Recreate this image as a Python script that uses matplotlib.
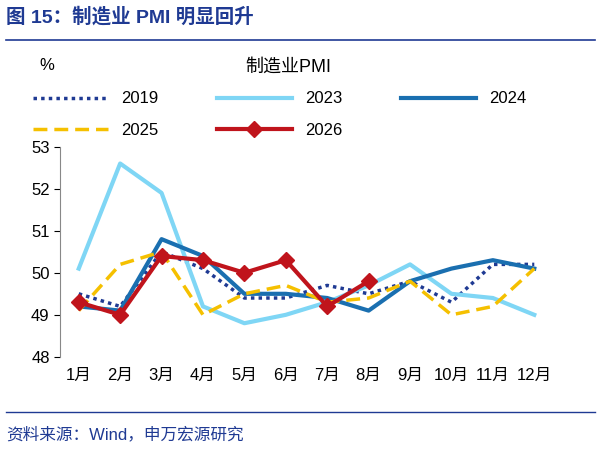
import matplotlib.pyplot as plt
from matplotlib.lines import Line2D

plt.rcParams['font.family'] = ['Liberation Sans', 'Noto Sans CJK SC', 'DejaVu Sans']

months = ['1月', '2月', '3月', '4月', '5月', '6月', '7月', '8月', '9月', '10月', '11月', '12月']
pmi_2019 = [49.5, 49.2, 50.5, 50.1, 49.4, 49.4, 49.7, 49.5, 49.8, 49.3, 50.2, 50.2]
pmi_2023 = [50.1, 52.6, 51.9, 49.2, 48.8, 49.0, 49.3, 49.7, 50.2, 49.5, 49.4, 49.0]
pmi_2024 = [49.2, 49.1, 50.8, 50.4, 49.5, 49.5, 49.4, 49.1, 49.8, 50.1, 50.3, 50.1]
pmi_2025 = [49.1, 50.2, 50.5, 49.0, 49.5, 49.7, 49.3, 49.4, 49.8, 49.0, 49.2, 50.1]
pmi_2026 = [49.3, 49.0, 50.4, 50.3, 50.0, 50.3, 49.2, 49.8]

fig = plt.figure(figsize=(6.01, 4.5), dpi=100)
ax = fig.add_axes([0.1, 0.207, 0.82, 0.467])
x = list(range(12))
ax.plot(x, pmi_2019, color='#1f3a93', lw=2.5, ls=(0, (1, 1.2)), label='2019')
ax.plot(x, pmi_2023, color='#7fd6f5', lw=3, label='2023')
ax.plot(x, pmi_2024, color='#1a6fb0', lw=3, label='2024')
ax.plot(x, pmi_2025, color='#f5c000', lw=2.5, ls=(0, (4, 2)), label='2025')
ax.plot(range(len(pmi_2026)), pmi_2026, color='#c0141c', lw=3, marker='D', ms=8, label='2026')

ax.set_ylim(48, 53)
ax.set_xlim(-0.45, 11.45)
ax.set_xticks(x)
ax.set_xticklabels(months, fontsize=12)
ax.set_yticks(range(48, 54))
ax.tick_params(axis='y', labelsize=12, length=4)
ax.tick_params(axis='x', length=0, pad=8)
for s in ['top', 'right', 'bottom']:
    ax.spines[s].set_visible(False)
ax.spines['left'].set_color('#888888')

fig.legend(handles=ax.get_lines()[:3], loc='upper left', bbox_to_anchor=(0.03, 0.83),
           ncol=3, frameon=False, fontsize=12, handlelength=4.5, columnspacing=3.5)
fig.legend(handles=ax.get_lines()[3:], loc='upper left', bbox_to_anchor=(0.03, 0.76),
           ncol=2, frameon=False, fontsize=12, handlelength=4.5, columnspacing=3.5)

fig.text(0.48, 0.84, '制造业PMI', fontsize=13, ha='center')
fig.text(0.065, 0.845, '%', fontsize=12)
fig.text(0.01, 0.985, '图 15：制造业 PMI 明显回升', fontsize=14, fontweight='bold',
         color='#1f3a93', va='top')
fig.add_artist(Line2D([0.01, 0.99], [0.912, 0.912], color='#1f3a93', lw=1.2))
fig.add_artist(Line2D([0.01, 0.99], [0.085, 0.085], color='#1f3a93', lw=1))
fig.text(0.01, 0.035, '资料来源：Wind，申万宏源研究', fontsize=12, color='#1f3a93', va='center')

fig.savefig('out.png')
